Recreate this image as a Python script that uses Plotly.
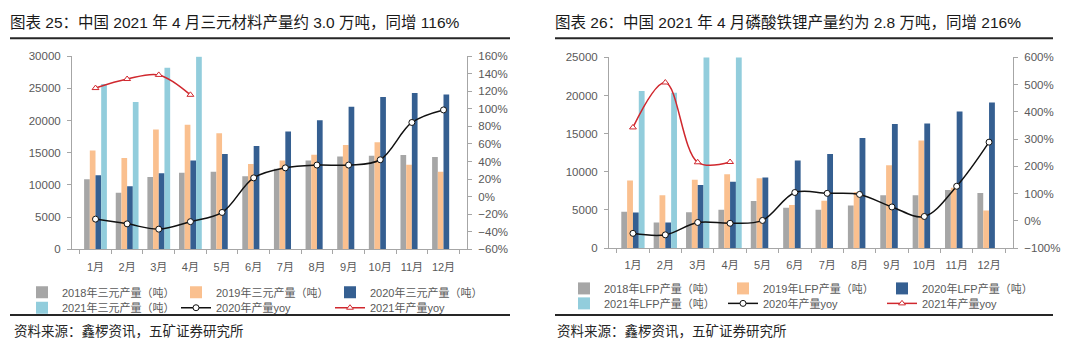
import plotly.graph_objects as go

months = ["1月", "2月", "3月", "4月", "5月", "6月", "7月", "8月", "9月", "10月", "11月", "12月"]

# Left panel: 三元材料 (tons)
ncm_2018 = [10900, 8800, 11250, 11900, 12050, 11350, 12500, 13800, 14400, 14550, 14650, 14350]
ncm_2019 = [15350, 14200, 18600, 19350, 18050, 13250, 13800, 14700, 16200, 16650, 13150, 12050]
ncm_2020 = [11500, 9800, 11800, 13800, 14800, 16050, 18300, 20050, 22150, 23650, 24300, 24050]
ncm_2021 = [25700, 22900, 28200, 29900, None, None, None, None, None, None, None, None]
ncm_yoy_2020 = [-25.6, -31, -37, -28.5, -18, 21.4, 32.8, 36, 36, 42, 84.5, 98.8]
ncm_yoy_2021 = [123.7, 134, 138.7, 116, None, None, None, None, None, None, None, None]

# Right panel: LFP (tons)
lfp_2018 = [4770, 3340, 4690, 5030, 6170, 5280, 5030, 5580, 6930, 6930, 7600, 7220]
lfp_2019 = [8870, 6930, 8960, 9670, 9170, 5660, 6210, 7350, 10860, 14110, 7900, 4940]
lfp_2020 = [4650, 3340, 8280, 8700, 9250, 11490, 12340, 14450, 16270, 16350, 17910, 19090]
lfp_2021 = [20610, 20360, 26100, 27500, None, None, None, None, None, None, None, None]
lfp_yoy_2020 = [-46, -51.5, -6, -9, 1.5, 104, 101, 97, 51, 16, 127, 289]
lfp_yoy_2021 = [343, 508, 215, 216, None, None, None, None, None, None, None, None]

C_GRAY = "#A6A6A6"
C_ORANGE = "#FAC08F"
C_NAVY = "#355F91"
C_LBLUE = "#92CDDC"
C_BLACK = "#111111"
C_RED = "#D0282E"
FONT = "Liberation Sans, Arial, Noto Sans CJK SC, sans-serif"
AX = "#A6A6A6"
TXT = "#595959"

W, H = 1080, 348
def px(x): return x / W
def py(y): return 1 - y / H

fig = go.Figure()

def add_panel(xa, ya, ya2, vals, names, yoy20, yoy21, lg1, lg2):
    cols = [C_GRAY, C_ORANGE, C_NAVY, C_LBLUE]
    for i, (v, n, c) in enumerate(zip(vals, names, cols)):
        fig.add_trace(go.Bar(x=months, y=v, name=n, marker=dict(color=c, line=dict(width=0)),
                             xaxis=xa, yaxis=ya, legend=lg1 if i < 3 else lg2))
    fig.add_trace(go.Scatter(x=months, y=yoy20, name="2020年产量yoy", mode="lines+markers",
                             line=dict(color=C_BLACK, width=1.5, shape="spline", smoothing=1),
                             marker=dict(symbol="circle", size=6, color="white", line=dict(color=C_BLACK, width=1)),
                             xaxis=xa, yaxis=ya2, legend=lg2))
    fig.add_trace(go.Scatter(x=months, y=yoy21, name="2021年产量yoy", mode="lines+markers",
                             line=dict(color=C_RED, width=1.5, shape="spline", smoothing=1),
                             marker=dict(symbol="triangle-up", size=6, color="white", line=dict(color=C_RED, width=1)),
                             xaxis=xa, yaxis=ya2, legend=lg2))

add_panel("x", "y", "y2", [ncm_2018, ncm_2019, ncm_2020, ncm_2021],
          ["2018年三元产量（吨）", "2019年三元产量（吨）", "2020年三元产量（吨）", "2021年三元产量（吨）"],
          ncm_yoy_2020, ncm_yoy_2021, "legend", "legend2")
add_panel("x2", "y3", "y4", [lfp_2018, lfp_2019, lfp_2020, lfp_2021],
          ["2018年LFP产量（吨）", "2019年LFP产量（吨）", "2020年LFP产量（吨）", "2021年LFP产量（吨）"],
          lfp_yoy_2020, lfp_yoy_2021, "legend3", "legend4")

tickfont = dict(family=FONT, size=11.5, color=TXT)
xcommon = dict(type="category", showline=True, linecolor=AX, linewidth=1, ticks="outside",
               tickson="boundaries", ticklen=4, tickcolor=AX, showgrid=False, zeroline=False,
               tickangle=0, ticklabelstandoff=7,
               tickfont=dict(family=FONT, size=11, color=TXT), fixedrange=True)
ycommon = dict(showline=True, linecolor=AX, linewidth=1, ticks="outside", ticklen=4, tickcolor=AX,
               showgrid=False, zeroline=False, ticklabelstandoff=4, tickfont=tickfont)

legfont = dict(family=FONT, size=11, color=TXT)
def leg(x, y, ew):
    return dict(orientation="h", x=px(x), y=py(y), xanchor="left", yanchor="middle",
                font=legfont, bgcolor="rgba(0,0,0,0)", entrywidth=ew, entrywidthmode="pixels",
                traceorder="normal", itemclick=False, itemdoubleclick=False)

fig.update_layout(
    width=W, height=H, margin=dict(l=0, r=0, t=0, b=0),
    paper_bgcolor="white", plot_bgcolor="white",
    barmode="group", bargap=0.28, bargroupgap=0,
    font=dict(family=FONT),
    xaxis=dict(domain=[px(72), px(467)], anchor="y", **xcommon),
    yaxis=dict(domain=[py(252), py(52)], anchor="x", range=[0, 30000], dtick=5000, tickformat="d", **ycommon),
    yaxis2=dict(overlaying="y", side="right", anchor="x", range=[-60, 160], dtick=20, ticksuffix="%", **ycommon),
    xaxis2=dict(domain=[px(609), px(1013)], anchor="y3", **xcommon),
    yaxis3=dict(domain=[py(250.7), py(53.3)], anchor="x2", range=[0, 25000], dtick=5000, tickformat="d", **ycommon),
    yaxis4=dict(overlaying="y3", side="right", anchor="x2", range=[-100, 600], dtick=100, ticksuffix="%", **ycommon),
    legend=leg(22, 296.5, 109),
    legend2=leg(22, 312.5, 109),
    legend3=leg(564, 292.5, 114),
    legend4=leg(564, 308, 114),
    showlegend=True,
)

titles = [(8, "图表 25：中国 2021 年 4 月三元材料产量约 3.0 万吨，同增 116%"),
          (553, "图表 26：中国 2021 年 4 月磷酸铁锂产量约为 2.8 万吨，同增 216%")]
for x, t in titles:
    fig.add_annotation(text=t, x=px(x), y=py(17), xref="paper", yref="paper", xanchor="left",
                       yanchor="middle", showarrow=False,
                       font=dict(family=FONT, size=15.5, color="#1A1A1A", weight="normal"))
for x in (12, 555):
    fig.add_annotation(text="资料来源：鑫椤资讯，五矿证券研究所", x=px(x), y=py(337), xref="paper", yref="paper",
                       xanchor="left", yanchor="middle", showarrow=False,
                       font=dict(family=FONT, size=13.5, color="#262626", weight="normal"))
for x0, x1 in ((10, 510), (555, 1053)):
    for yy in (33.3, 320):
        fig.add_shape(type="line", xref="paper", yref="paper", x0=px(x0), x1=px(x1), y0=py(yy), y1=py(yy),
                      line=dict(color="#262626", width=2))

fig.write_html("out.html")
